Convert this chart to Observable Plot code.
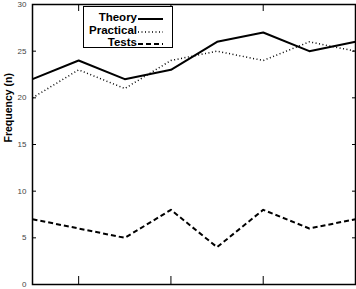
<!DOCTYPE html>
<html><head>
<meta charset="utf-8">
<script src="https://cdn.jsdelivr.net/npm/d3@7"></script>
<script src="https://cdn.jsdelivr.net/npm/@observablehq/plot@0.6"></script>
<style>
body{margin:0;background:#fff}
#wrap{position:relative;width:356px;height:289px}
#legend{position:absolute;left:83px;top:6px;width:88px;height:40px;border:1px solid #000;background:#fff;font:bold 11.5px "Liberation Sans",Arial,sans-serif}
.row{position:absolute;left:0;height:12px;line-height:12px}
.row span{position:absolute;right:35px;white-space:nowrap}
.row svg{position:absolute;left:54px;top:0}
</style>
</head><body><div id="wrap"><div id="legend"></div></div>
<script>
const points = [0, 1, 2, 3, 4, 5, 6, 7];
const theory = [22, 24, 22, 23, 26, 27, 25, 26];
const practical = [20, 23, 21, 24, 25, 24, 26, 25];
const tests = [7, 6, 5, 8, 4, 8, 6, 7];
const yTicks = [0, 5, 10, 15, 20, 25, 30];
const xTicks = [1, 3, 5];
const seriesNames = ["Theory", "Practical", "Tests"];
const seriesDash = ["none", "1,2.5", "5,3"];
const seriesWidth = [2, 1.5, 2];
const seriesValues = [theory, practical, tests];

const marks = [
  Plot.frame({stroke: "#000", strokeWidth: 1.5}),
  Plot.axisY(yTicks, {anchor: "left", tickSize: -4, text: null, label: null}),
  Plot.axisY(yTicks, {anchor: "right", tickSize: -4, text: null, label: null}),
  Plot.axisY(yTicks, {anchor: "left", tickSize: 0, tickPadding: 6, label: null, fill: "#444", fontSize: 8}),
  Plot.axisX(xTicks, {anchor: "bottom", tickSize: -8, text: null, label: null}),
  Plot.axisX(xTicks, {anchor: "top", tickSize: -6, text: null, label: null}),
  Plot.text(["Frequency (n)"], {frameAnchor: "left", dx: -24, dy: -2, rotate: -90, fontWeight: "bold", fontSize: 10.5})
];
seriesValues.forEach((vals, k) => {
  const data = points.map(i => ({x: i, y: vals[i]}));
  marks.push(Plot.line(data, {x: "x", y: "y", stroke: "#000", strokeWidth: seriesWidth[k], strokeDasharray: seriesDash[k], strokeLinecap: "butt"}));
});

const chart = Plot.plot({
  width: 356, height: 289,
  marginLeft: 32, marginRight: 1, marginTop: 4, marginBottom: 5,
  x: {domain: [0, 7]},
  y: {domain: [0, 30]},
  style: {fontFamily: "'Liberation Sans', Arial, sans-serif", fontSize: "9px", background: "#fff"},
  marks
});
const wrap = document.getElementById("wrap");
wrap.insertBefore(chart, wrap.firstChild);

const legend = document.getElementById("legend");
const rowTops = [4, 17, 29];
seriesNames.forEach((name, k) => {
  const row = document.createElement("div");
  row.className = "row";
  row.style.top = rowTops[k] + "px";
  row.style.width = "88px";
  row.innerHTML = `<span>${name}</span><svg width="25" height="12"><line x1="0" x2="25" y1="8" y2="8" stroke="#000" stroke-width="${seriesWidth[k]}" stroke-dasharray="${seriesDash[k]}"/></svg>`;
  legend.appendChild(row);
});
</script>
</body></html>
